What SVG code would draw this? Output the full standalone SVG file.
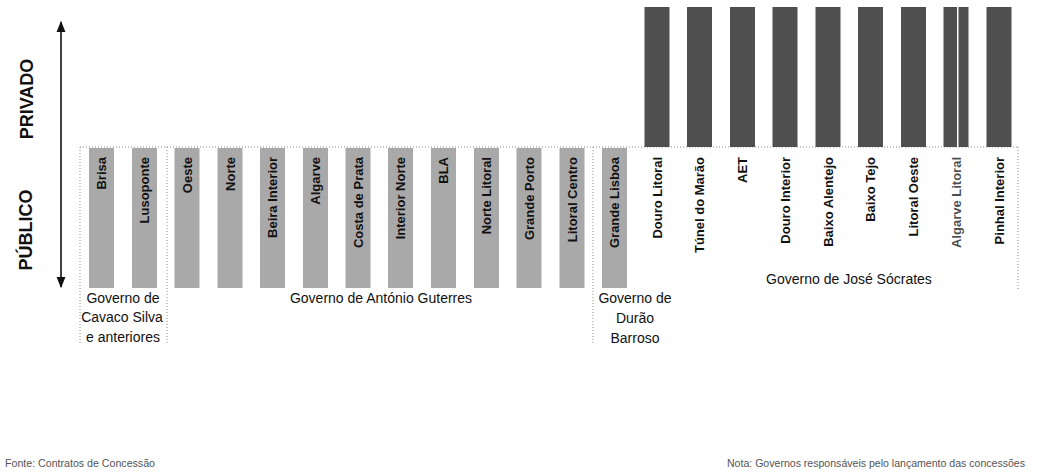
<svg xmlns="http://www.w3.org/2000/svg" width="1041" height="476" viewBox="0 0 1041 476">
<defs>
<style>
.pub{fill:#a9a9a9}
.priv{fill:#4f4f4f}
.bl{font-family:"Liberation Sans",Arial,sans-serif;font-size:13px;font-weight:bold;fill:#111;text-anchor:end}
.ax{font-family:"Liberation Sans",Arial,sans-serif;font-size:18px;font-weight:bold;fill:#111;text-anchor:middle}
.gov{font-family:"Liberation Sans",Arial,sans-serif;font-size:14px;fill:#111;text-anchor:middle}
.note{font-family:"Liberation Sans",Arial,sans-serif;font-size:10px;fill:#555}
.dot{stroke:#8a8a8a;stroke-width:1;stroke-dasharray:1 2;fill:none}
</style>
<marker id="ah" viewBox="0 0 10 10" refX="9" refY="5" markerWidth="7" markerHeight="7" orient="auto-start-reverse">
<path d="M0,1 L10,5 L0,9 Z" fill="#111"/>
</marker>
</defs>
<rect width="1041" height="476" fill="#fff"/>

<g id="axis">
<line x1="61" y1="22" x2="61" y2="287" stroke="#111" stroke-width="1.6" marker-start="url(#ah)" marker-end="url(#ah)"/>
<text class="ax" transform="translate(33,99) rotate(-90)">PRIVADO</text>
<text class="ax" transform="translate(32,230) rotate(-90)">PÚBLICO</text>
</g>

<g id="connectors">
<line class="dot" x1="80" y1="147" x2="1018" y2="147"/>
<line class="dot" x1="80" y1="147" x2="80" y2="345"/>
<line class="dot" x1="167" y1="147" x2="167" y2="345"/>
<line class="dot" x1="593" y1="147" x2="593" y2="345"/>
<line class="dot" x1="1018" y1="147" x2="1018" y2="290"/>
</g>

<g id="bar-brisa"><rect class="pub" x="89" y="148" width="25" height="140"/><text class="bl" transform="translate(106,157) rotate(-90)">Brisa</text></g>
<g id="bar-lusoponte"><rect class="pub" x="132" y="148" width="25" height="140"/><text class="bl" transform="translate(149,157) rotate(-90)">Lusoponte</text></g>
<g id="bar-oeste"><rect class="pub" x="174.5" y="148" width="25" height="140"/><text class="bl" transform="translate(191.5,157) rotate(-90)">Oeste</text></g>
<g id="bar-norte"><rect class="pub" x="217.5" y="148" width="25" height="140"/><text class="bl" transform="translate(234.5,157) rotate(-90)">Norte</text></g>
<g id="bar-beira-interior"><rect class="pub" x="260" y="148" width="25" height="140"/><text class="bl" transform="translate(277,157) rotate(-90)">Beira Interior</text></g>
<g id="bar-algarve"><rect class="pub" x="303" y="148" width="25" height="140"/><text class="bl" transform="translate(320,157) rotate(-90)">Algarve</text></g>
<g id="bar-costa-de-prata"><rect class="pub" x="345.5" y="148" width="25" height="140"/><text class="bl" transform="translate(362.5,157) rotate(-90)">Costa de Prata</text></g>
<g id="bar-interior-norte"><rect class="pub" x="388" y="148" width="25" height="140"/><text class="bl" transform="translate(405,157) rotate(-90)">Interior Norte</text></g>
<g id="bar-bla"><rect class="pub" x="431" y="148" width="25" height="140"/><text class="bl" transform="translate(448,157) rotate(-90)">BLA</text></g>
<g id="bar-norte-litoral"><rect class="pub" x="474" y="148" width="25" height="140"/><text class="bl" transform="translate(491,157) rotate(-90)">Norte Litoral</text></g>
<g id="bar-grande-porto"><rect class="pub" x="516.5" y="148" width="25" height="140"/><text class="bl" transform="translate(533.5,157) rotate(-90)">Grande Porto</text></g>
<g id="bar-litoral-centro"><rect class="pub" x="559.5" y="148" width="25" height="140"/><text class="bl" transform="translate(576.5,157) rotate(-90)">Litoral Centro</text></g>
<g id="bar-grande-lisboa"><rect class="pub" x="602" y="148" width="25" height="140"/><text class="bl" transform="translate(619,157) rotate(-90)">Grande Lisboa</text></g>

<g id="bar-douro-litoral"><rect class="priv" x="644.5" y="7" width="25" height="140"/><text class="bl" transform="translate(661.5,157) rotate(-90)">Douro Litoral</text></g>
<g id="bar-tunel-do-marao"><rect class="priv" x="687" y="7" width="25" height="140"/><text class="bl" transform="translate(704,157) rotate(-90)">Túnel do Marão</text></g>
<g id="bar-aet"><rect class="priv" x="730" y="7" width="25" height="140"/><text class="bl" transform="translate(747,157) rotate(-90)">AET</text></g>
<g id="bar-douro-interior"><rect class="priv" x="772.5" y="7" width="25" height="140"/><text class="bl" transform="translate(789.5,157) rotate(-90)">Douro Interior</text></g>
<g id="bar-baixo-alentejo"><rect class="priv" x="815.5" y="7" width="25" height="140"/><text class="bl" transform="translate(832.5,157) rotate(-90)">Baixo Alentejo</text></g>
<g id="bar-baixo-tejo"><rect class="priv" x="858" y="7" width="25" height="140"/><text class="bl" transform="translate(875,157) rotate(-90)">Baixo Tejo</text></g>
<g id="bar-litoral-oeste"><rect class="priv" x="901" y="7" width="25" height="140"/><text class="bl" transform="translate(918,157) rotate(-90)">Litoral Oeste</text></g>
<g id="bar-algarve-litoral"><rect class="priv" x="943.5" y="7" width="25" height="140"/><rect x="957" y="7" width="1.5" height="140" fill="#fff"/><text class="bl" transform="translate(960.5,157) rotate(-90)" fill-opacity="0.75">Algarve Litoral</text></g>
<g id="bar-pinhal-interior"><rect class="priv" x="986.5" y="7" width="25" height="140"/><text class="bl" transform="translate(1003.5,157) rotate(-90)">Pinhal Interior</text></g>

<g id="gov-cavaco">
<text class="gov" x="123" y="303">Governo de</text>
<text class="gov" x="122" y="322">Cavaco Silva</text>
<text class="gov" x="123" y="342">e anteriores</text>
</g>
<g id="gov-guterres"><text class="gov" x="381" y="303">Governo de António Guterres</text></g>
<g id="gov-durao">
<text class="gov" x="635" y="303">Governo de</text>
<text class="gov" x="635" y="323">Durão</text>
<text class="gov" x="635" y="343">Barroso</text>
</g>
<g id="gov-socrates"><text class="gov" x="849" y="284">Governo de José Sócrates</text></g>

<text class="note" x="5" y="467" textLength="150" lengthAdjust="spacingAndGlyphs">Fonte: Contratos de Concessão</text>
<text class="note" x="727" y="467" textLength="298" lengthAdjust="spacingAndGlyphs">Nota: Governos responsáveis pelo lançamento das concessões</text>
</svg>
